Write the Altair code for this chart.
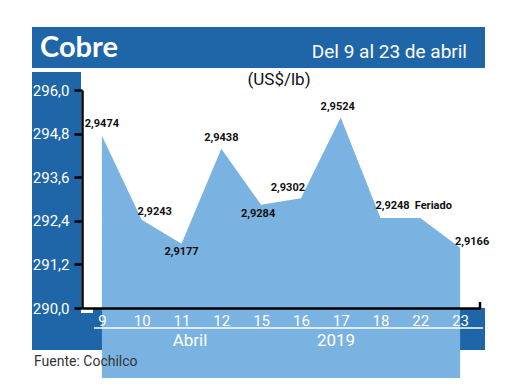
import altair as alt
import pandas as pd

days = ["9", "10", "11", "12", "15", "16", "17", "18", "22", "23"]
prices = [294.74, 292.43, 291.77, 294.38, 292.84, 293.02, 295.24, 292.48, 292.48, 291.66]
labels = ["2,9474", "2,9243", "2,9177", "2,9438", "2,9284", "2,9302", "2,9524", "2,9248", "Feriado", "2,9166"]
y_ticks = [290.0, 291.2, 292.4, 293.6, 294.8, 296.0]

title_left = "Cobre"
title_right = "Del 9 al 23 de abril"
unit = "(US$/lb)"
month = "Abril"
year = "2019"
source = "Fuente: Cochilco"

df = pd.DataFrame({"day": days, "price": prices, "label": labels})
one = pd.DataFrame({"a": [0]})

BLUE = "#1f66a9"
AREA = "#7ab3e1"
W, H = 398, 218
COND = "Roboto, sans-serif"
SANS = "Roboto, Open Sans, sans-serif"

xs = alt.X("day:N", sort=days, scale=alt.Scale(type="point", padding=0.5),
           axis=alt.Axis(title=None, ticks=False, domainColor="black", domainWidth=2.5,
                         labelColor="white", labelFontSize=15, labelFont=SANS, labelAngle=0,
                         labelPadding=5, zindex=1))
ys = alt.Y("price:Q", scale=alt.Scale(domain=[290, 296], nice=False, zero=False),
           axis=alt.Axis(title=None, values=y_ticks, grid=False, domainColor="black",
                         domainWidth=2.5, tickColor="black", tickWidth=2.5, tickSize=8,
                         labelColor="white", labelFontSize=15, labelFont=SANS, labelPadding=5,
                         labelExpr="replace(format(datum.value, '.1f'), '.', ',')", zindex=1))

def rect(x1, x2, y1, y2, color=BLUE):
    return alt.Chart(one).mark_rect(color=color).encode(
        x=alt.value(x1), x2=alt.value(x2), y=alt.value(y1), y2=alt.value(y2))

def txt(s, x, y, size, font=SANS, color="white", align="left", weight="normal"):
    return alt.Chart(one).mark_text(text=s, fontSize=size, font=font, color=color,
                                    align=align, baseline="alphabetic", fontWeight=weight).encode(
        x=alt.value(x), y=alt.value(y))

bg = [
    rect(-50, 403, -63, -22),
    rect(-50, -1, -18, 260),
    rect(11, 403, 218, 260),
    rect(-1, 11, 223, 260),
]

area = alt.Chart(df).mark_area(color=AREA, opacity=1).encode(x=xs, y=ys)

offsets = {
    "9": (0, -12), "10": (13, -8), "11": (0, 8), "12": (0, -11), "15": (-3, 9),
    "16": (-13, -10), "17": (-3, -11), "18": (12, -12), "22": (13, -12), "23": (12, -6),
}
label_layers = []
for d, (dx, dy) in offsets.items():
    label_layers.append(
        alt.Chart(df).transform_filter(alt.datum.day == d).mark_text(
            font=COND, fontSize=11, fontWeight="bold", color="#111", dx=dx, dy=dy,
            baseline="middle", align="center").encode(x=xs, y=ys, text="label:N"))

corner = alt.Chart(one).mark_rule(color="black", strokeWidth=2.5).encode(
    x=alt.value(W), y=alt.value(H - 6), y2=alt.value(H + 1))
sep = alt.Chart(one).mark_rule(color="white", strokeWidth=1.5).encode(
    x=alt.value(12), x2=alt.value(401), y=alt.value(238))

texts = [
    txt(title_left, -42, -33, 29, font="Lato, Open Sans, sans-serif", weight="bold"),
    txt(title_right, 385, -32, 19, font=COND, align="right"),
    txt(unit, 197, -5, 17, color="#111", align="center"),
    txt(month, 108, 256, 17, align="center"),
    txt(year, 254, 256, 17, align="center"),
    txt(source, -48, 276, 14, color="#333"),
]

chart = alt.layer(*bg, area, *label_layers, corner, sep, *texts).properties(
    width=W, height=H, autosize="none",
    padding={"left": 74, "top": 82, "right": 30, "bottom": 70},
).configure_view(stroke=None)

chart.save("out.html", embed_options={"renderer": "svg", "actions": False})
